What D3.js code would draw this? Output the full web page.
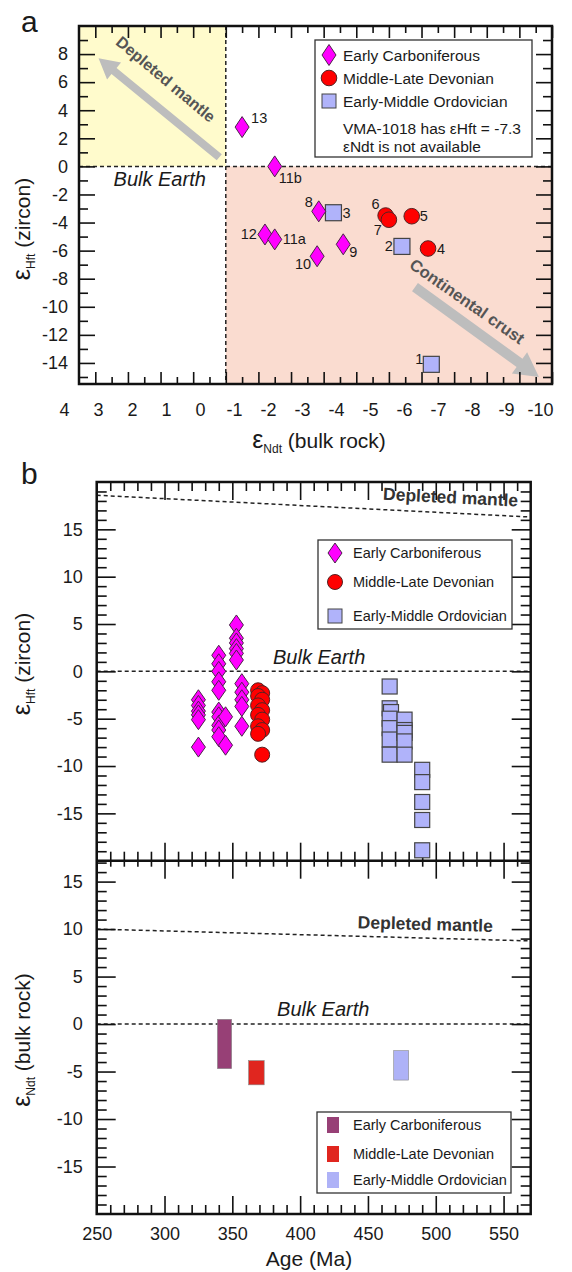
<!DOCTYPE html>
<html>
<head>
<meta charset="utf-8">
<script src="https://cdn.jsdelivr.net/npm/d3@7"></script>
<style>
body{margin:0;background:#fff;}
svg text{font-family:Arial,"Liberation Sans",sans-serif;fill:#1a1a1a;}
.frame{fill:none;stroke:#111;stroke-width:2.5;}
.axis path{display:none;}
.axis line{stroke:#111;stroke-width:1.6;}
.axis text{font-size:18px;font-family:Arial,"Liberation Sans",sans-serif;fill:#1a1a1a;}
.dash{fill:none;stroke:#222;stroke-width:1.5;stroke-dasharray:4,3;}
</style>
</head>
<body>
<svg id="chart" width="572" height="1272"></svg>
<script>
(function(){

//panel a data: [label, eNd(t) bulk rock, eHf(t) zircon]
var carbA = [["13",-0.5,2.8],["11b",-1.5,0.0],["12",-1.2,-4.85],["11a",-1.5,-5.2],["8",-2.85,-3.2],["10",-2.8,-6.4],["9",-3.6,-5.55]];
var devA = [["6",-4.9,-3.5],["7",-5.0,-3.8],["5",-5.7,-3.55],["4",-6.2,-5.85]];
var ordA = [["3",-3.3,-3.3],["2",-5.4,-5.7],["1",-6.3,-14.1]];
var xTicksA = [4,3,2,1,0,-1,-2,-3,-4,-5,-6,-7,-8,-9,-10];
var yTicksA = [8,6,4,2,0,-2,-4,-6,-8,-10,-12,-14];

//panel b data: [age Ma, eHf(t)]
var carbB = [[325,-3.0],[325,-3.6],[325,-4.2],[325,-4.6],[325,-5.1],[325,-8.0],
  [340,1.7],[340,0.8],[340,0.0],[340,-1.1],[340,-2.0],[340,-4.3],[340,-4.8],[340,-5.7],[340,-6.2],[340,-6.9],
  [345,-4.8],[345,-7.8],
  [353,4.9],[353,3.5],[353,3.0],[353,2.4],[353,1.9],[353,1.2],
  [357,-1.3],[357,-2.2],[357,-3.0],[357,-3.7],[357,-5.8]];
var devB = [[369,-2.0],[372,-2.3],[369,-2.6],[372,-3.0],[369,-3.6],[372,-4.1],[369,-4.6],[372,-5.1],[369,-5.8],[372,-6.2],[369,-6.6],[372,-8.8]];
var ordB = [[466,-1.6],[466,-3.9],[467,-4.3],[466,-5.0],[466,-6.0],[466,-7.2],[466,-8.8],
  [477,-5.1],[477,-6.2],[477,-6.5],[477,-7.4],[477,-8.8],
  [490,-10.4],[490,-11.7],[490,-13.8],[490,-15.7],[490,-18.9]];

//panel b bottom: eNd(t) bulk rock ranges
var barNames = ["Early Carboniferous","Middle-Late Devonian","Early-Middle Ordovician"];
var barAges = [[339,349.5],[362,373.5],[469,480]];
var barNd = [[-4.7,0.5],[-6.4,-3.85],[-5.9,-2.8]];

//depleted mantle reference lines
var dmAge = [250,570];
var dmHf = [18.6,16.3];
var dmNd = [10.0,8.75];

var ageTicks = [250,300,350,400,450,500,550];
var epsTicks = [15,10,5,0,-5,-10,-15];

var seriesNames = ["Early Carboniferous","Middle-Late Devonian","Early-Middle Ordovician"];
var colCarb = "#ff00ff", colDev = "#ff0000", colOrd = "#b0b3fa";
var barColors = ["#974076","#e0261f","#aeb2f7"];

var svg = d3.select("#chart");

function num(d){ return String(d); }

function diamondPath(hw, hh){
    return "M0," + (-hh) + "L" + hw + ",0L0," + hh + "L" + (-hw) + ",0Z";
}

function arrowPoly(p0, p1, w, hw, hl){
    var dx = p1[0]-p0[0], dy = p1[1]-p0[1], L = Math.sqrt(dx*dx+dy*dy);
    var ux = dx/L, uy = dy/L, nx = -uy, ny = ux;
    var b = [p1[0]-ux*hl, p1[1]-uy*hl];
    return [[p0[0]+nx*w/2,p0[1]+ny*w/2],[b[0]+nx*w/2,b[1]+ny*w/2],[b[0]+nx*hw/2,b[1]+ny*hw/2],
        p1,[b[0]-nx*hw/2,b[1]-ny*hw/2],[b[0]-nx*w/2,b[1]-ny*w/2],[p0[0]-nx*w/2,p0[1]-ny*w/2]];
}

//epsilon title with subscript
function epsText(t, sub, rest){
    t.append("tspan").attr("font-size",25).text("\u03b5");
    t.append("tspan").attr("font-size",12).attr("dy",5).text(sub);
    t.append("tspan").attr("font-size",21).attr("dy",-5).text(" " + rest);
    return t;
}
function epsTitle(g, x, y, sub, rest){
    var t = g.append("text")
        .attr("transform","translate(" + x + "," + y + ") rotate(-90)")
        .attr("text-anchor","middle");
    return epsText(t, sub, rest);
}

/* ---------------- panel a ---------------- */
var xA = d3.scaleLinear().domain([4.5,-10]).range([79,552]);
var yA = d3.scaleLinear().domain([-15.5,10]).range([384,26]);
//the printed labels sit on a slightly wider spacing than the ticks
var xAlab = d3.scaleLinear().domain([4,-10]).range([64,540]);

//shaded fields
svg.append("rect")
    .attr("x",xA(4.5)).attr("y",yA(10))
    .attr("width",xA(0)-xA(4.5)).attr("height",yA(0)-yA(10))
    .attr("fill","#fffbcc");
svg.append("rect")
    .attr("x",xA(0)).attr("y",yA(0))
    .attr("width",xA(-10)-xA(0)).attr("height",yA(-15.5)-yA(0))
    .attr("fill","#fadcd0");

svg.append("line").attr("class","dash")
    .attr("x1",xA(0)).attr("x2",xA(0)).attr("y1",yA(10)).attr("y2",yA(-15.5));
svg.append("line").attr("class","dash")
    .attr("x1",xA(4.5)).attr("x2",xA(-10)).attr("y1",yA(0)).attr("y2",yA(0));

//arrows
var dmArrow = arrowPoly([xA(0.2),yA(0.65)],[xA(3.9),yA(7.7)],8,22,20);
svg.append("polygon").attr("points",dmArrow.join(" ")).attr("fill","#bdbdbd");
var ccArrow = arrowPoly([xA(-5.8),yA(-8.6)],[xA(-9.6),yA(-15.0)],10,26,24);
svg.append("polygon").attr("points",ccArrow.join(" ")).attr("fill","#bdbdbd");

svg.append("text")
    .attr("transform","translate(" + xA(1.95) + "," + yA(5.9) + ") rotate(40)")
    .attr("text-anchor","middle").attr("font-size",16).attr("font-weight","bold")
    .style("fill","#555").text("Depleted mantle");
svg.append("text")
    .attr("transform","translate(" + xA(-7.3) + "," + yA(-9.95) + ") rotate(35)")
    .attr("text-anchor","middle").attr("font-size",16.5).attr("font-weight","bold")
    .style("fill","#555").text("Continental crust");

svg.append("text")
    .attr("x",xA(3.44)).attr("y",yA(-1.43))
    .attr("font-size",20).attr("font-style","italic").text("Bulk Earth");

//axes panel a
var axA = svg.append("g");
axA.append("g").attr("class","axis").attr("transform","translate(0," + yA(-15.5) + ")")
    .call(d3.axisBottom(xAlab).tickValues(xTicksA).tickSize(0).tickPadding(19).tickFormat(num));
axA.append("g").attr("class","axis").attr("transform","translate(0," + yA(-15.5) + ")")
    .call(d3.axisBottom(xA).tickValues(xTicksA).tickSize(-12).tickFormat(""));
axA.append("g").attr("class","axis").attr("transform","translate(0," + yA(-15.5) + ")")
    .call(d3.axisBottom(xA).tickValues(d3.range(-9.5,4.5,1)).tickSize(-7).tickFormat(""));
axA.append("g").attr("class","axis").attr("transform","translate(0," + yA(10) + ")")
    .call(d3.axisTop(xA).tickValues(xTicksA).tickSize(-12).tickFormat(""));
axA.append("g").attr("class","axis").attr("transform","translate(0," + yA(10) + ")")
    .call(d3.axisTop(xA).tickValues(d3.range(-9.5,4.5,1)).tickSize(-7).tickFormat(""));
axA.append("g").attr("class","axis").attr("transform","translate(" + xA(4.5) + ",0)")
    .call(d3.axisLeft(yA).tickValues(yTicksA).tickSize(-16).tickPadding(11).tickFormat(num));
axA.append("g").attr("class","axis").attr("transform","translate(" + xA(4.5) + ",0)")
    .call(d3.axisLeft(yA).tickValues(d3.range(-15,10,2)).tickSize(-9).tickFormat(""));
axA.append("g").attr("class","axis").attr("transform","translate(" + xA(-10) + ",0)")
    .call(d3.axisRight(yA).tickValues(yTicksA).tickSize(-16).tickFormat(""));
axA.append("g").attr("class","axis").attr("transform","translate(" + xA(-10) + ",0)")
    .call(d3.axisRight(yA).tickValues(d3.range(-15,10,2)).tickSize(-9).tickFormat(""));

svg.append("rect").attr("class","frame")
    .attr("x",xA(4.5)).attr("y",yA(10))
    .attr("width",xA(-10)-xA(4.5)).attr("height",yA(-15.5)-yA(10));

//points panel a
var labelPos = {"13":[9,-4,"start"],"11b":[4,17,"start"],"12":[-8,5,"end"],"11a":[8,5,"start"],
    "8":[-6,-4,"end"],"10":[-6,13,"end"],"9":[6,13,"start"],"6":[-6,-7,"end"],"7":[-7,15,"end"],
    "5":[8,5,"start"],"4":[9,5,"start"],"3":[9,5,"start"],"2":[-9,5,"end"],"1":[-8,0,"end"]};

var ptsA = svg.append("g");
ptsA.selectAll(".sqA").data(ordA).enter().append("rect")
    .attr("x",function(d){ return xA(d[1])-8; })
    .attr("y",function(d){ return yA(d[2])-8; })
    .attr("width",16).attr("height",16)
    .attr("fill",colOrd).attr("stroke","#444").attr("stroke-width",1.2);
ptsA.selectAll(".ciA").data(devA).enter().append("circle")
    .attr("cx",function(d){ return xA(d[1]); })
    .attr("cy",function(d){ return yA(d[2]); })
    .attr("r",7.8)
    .attr("fill",colDev).attr("stroke","#552222").attr("stroke-width",1);
ptsA.selectAll(".diA").data(carbA).enter().append("path")
    .attr("d",diamondPath(7,10.5))
    .attr("transform",function(d){ return "translate(" + xA(d[1]) + "," + yA(d[2]) + ")"; })
    .attr("fill",colCarb).attr("stroke","#4a2448").attr("stroke-width",1);

ptsA.selectAll(".lab").data(carbA.concat(devA,ordA)).enter().append("text")
    .attr("x",function(d){ return xA(d[1]) + labelPos[d[0]][0]; })
    .attr("y",function(d){ return yA(d[2]) + labelPos[d[0]][1]; })
    .attr("text-anchor",function(d){ return labelPos[d[0]][2]; })
    .attr("font-size",14.5).text(function(d){ return d[0]; });

//legend panel a
var legA = svg.append("g");
legA.append("rect").attr("x",315).attr("y",40).attr("width",217).attr("height",117)
    .attr("fill","#fff").attr("stroke","#333").attr("stroke-width",1.3);
legA.append("path").attr("d",diamondPath(7,10.5)).attr("transform","translate(329,55)")
    .attr("fill",colCarb).attr("stroke","#4a2448");
legA.append("circle").attr("cx",329).attr("cy",78).attr("r",7.8)
    .attr("fill",colDev).attr("stroke","#552222");
legA.append("rect").attr("x",322).attr("y",94).attr("width",14).attr("height",14)
    .attr("fill",colOrd).attr("stroke","#444");
legA.selectAll(".lt").data(seriesNames).enter().append("text")
    .attr("x",343).attr("y",function(d,i){ return [61,84,107][i]; })
    .attr("font-size",15.5).text(function(d){ return d; });
legA.append("text").attr("x",343).attr("y",134).attr("font-size",15.5).text("VMA-1018 has \u03b5Hft = -7.3");
legA.append("text").attr("x",343).attr("y",152).attr("font-size",15.5).text("\u03b5Ndt  is not available");

svg.append("text").attr("x",21).attr("y",32).attr("font-size",30).text("a");
epsTitle(svg, 30, 229, "Hft", "(zircon)");
epsText(svg.append("text").attr("x",319).attr("y",448).attr("text-anchor","middle"), "Ndt", "(bulk rock)");

/* ---------------- panel b ---------------- */
var xB = d3.scaleLinear().domain([250,570]).range([96.7,530.7]);
var yB1 = d3.scaleLinear().domain([-20,20]).range([860.7,482]);
var yB2 = d3.scaleLinear().domain([-20,17.2]).range([1214,860.7]);

//reference lines
var dmLine1 = d3.line().x(function(d,i){ return xB(dmAge[i]); }).y(function(d){ return yB1(d); });
var dmLine2 = d3.line().x(function(d,i){ return xB(dmAge[i]); }).y(function(d){ return yB2(d); });
svg.append("path").attr("class","dash").attr("d",dmLine1(dmHf));
svg.append("path").attr("class","dash").attr("d",dmLine2(dmNd));
svg.append("line").attr("class","dash").attr("x1",xB(250)).attr("x2",xB(570)).attr("y1",yB1(0)).attr("y2",yB1(0));
svg.append("line").attr("class","dash").attr("x1",xB(250)).attr("x2",xB(570)).attr("y1",yB2(0)).attr("y2",yB2(0));

svg.append("text")
    .attr("transform","translate(" + xB(560.5) + "," + yB1(17.4) + ") rotate(2.9)")
    .attr("text-anchor","end").attr("font-size",17.5).attr("font-weight","bold")
    .style("fill","#333").text("Depleted mantle");
svg.append("text")
    .attr("transform","translate(" + xB(542) + "," + yB2(9.7) + ") rotate(1.6)")
    .attr("text-anchor","end").attr("font-size",17.5).attr("font-weight","bold")
    .style("fill","#333").text("Depleted mantle");
svg.append("text").attr("x",xB(380)).attr("y",yB1(0.77))
    .attr("font-size",20).attr("font-style","italic").text("Bulk Earth");
svg.append("text").attr("x",xB(383)).attr("y",yB2(0.85))
    .attr("font-size",20).attr("font-style","italic").text("Bulk Earth");

//axes panel b
var minorAge = d3.range(260,570,10).filter(function(d){ return d % 50 !== 0; });
var minorEps1 = d3.range(-19,20,1).filter(function(d){ return d % 5 !== 0; });
var minorEps2 = d3.range(-19,18,1).filter(function(d){ return d % 5 !== 0; });
var axB = svg.append("g");

function ageAxis(gen, y, len, minLen, labels){
    axB.append("g").attr("class","axis").attr("transform","translate(0," + y + ")")
        .call(gen(xB).tickValues(ageTicks).tickSize(len).tickPadding(13).tickFormat(labels ? num : ""));
    axB.append("g").attr("class","axis").attr("transform","translate(0," + y + ")")
        .call(gen(xB).tickValues(minorAge).tickSize(minLen).tickFormat(""));
}
ageAxis(d3.axisTop, yB1(20), -18, -9, false);
ageAxis(d3.axisBottom, yB1(-20), -18, -9, false);
ageAxis(d3.axisTop, yB1(-20), -18, -6, false);
ageAxis(d3.axisBottom, yB2(-20), -18, -9, true);

function epsAxis(scale, minor){
    axB.append("g").attr("class","axis").attr("transform","translate(" + xB(250) + ",0)")
        .call(d3.axisLeft(scale).tickValues(epsTicks).tickSize(-19).tickPadding(14).tickFormat(num));
    axB.append("g").attr("class","axis").attr("transform","translate(" + xB(250) + ",0)")
        .call(d3.axisLeft(scale).tickValues(minor).tickSize(-10).tickFormat(""));
    axB.append("g").attr("class","axis").attr("transform","translate(" + xB(570) + ",0)")
        .call(d3.axisRight(scale).tickValues(epsTicks).tickSize(-19).tickFormat(""));
    axB.append("g").attr("class","axis").attr("transform","translate(" + xB(570) + ",0)")
        .call(d3.axisRight(scale).tickValues(minor).tickSize(-10).tickFormat(""));
}
epsAxis(yB1, minorEps1);
epsAxis(yB2, minorEps2);

//upper points
var ptsB = svg.append("g");
ptsB.selectAll(".sqB").data(ordB).enter().append("rect")
    .attr("x",function(d){ return xB(d[0])-7.5; })
    .attr("y",function(d){ return yB1(d[1])-7.5; })
    .attr("width",15).attr("height",15)
    .attr("fill",colOrd).attr("stroke","#444").attr("stroke-width",1.2);
ptsB.selectAll(".diB").data(carbB).enter().append("path")
    .attr("d",diamondPath(7,10))
    .attr("transform",function(d){ return "translate(" + xB(d[0]) + "," + yB1(d[1]) + ")"; })
    .attr("fill",colCarb).attr("stroke","#4a2448").attr("stroke-width",1);
ptsB.selectAll(".ciB").data(devB).enter().append("circle")
    .attr("cx",function(d){ return xB(d[0]); })
    .attr("cy",function(d){ return yB1(d[1]); })
    .attr("r",7.5)
    .attr("fill",colDev).attr("stroke","#552222").attr("stroke-width",1);

//lower bars
svg.selectAll(".ndBar").data(barNames).enter().append("rect")
    .attr("x",function(d,i){ return xB(barAges[i][0]); })
    .attr("width",function(d,i){ return xB(barAges[i][1]) - xB(barAges[i][0]); })
    .attr("y",function(d,i){ return yB2(barNd[i][1]); })
    .attr("height",function(d,i){ return yB2(barNd[i][0]) - yB2(barNd[i][1]); })
    .attr("fill",function(d,i){ return barColors[i]; })
    .attr("stroke","#888").attr("stroke-width",0.6);

svg.append("rect").attr("class","frame")
    .attr("x",xB(250)).attr("y",yB1(20))
    .attr("width",xB(570)-xB(250)).attr("height",yB2(-20)-yB1(20));
svg.append("line").attr("x1",xB(250)).attr("x2",xB(570)).attr("y1",yB1(-20)).attr("y2",yB1(-20))
    .attr("stroke","#111").attr("stroke-width",2.5);

//legend upper b
var legB = svg.append("g");
legB.append("rect").attr("x",318).attr("y",540).attr("width",194).attr("height",89)
    .attr("fill","#fff").attr("stroke","#333").attr("stroke-width",1.3);
legB.append("path").attr("d",diamondPath(7,10)).attr("transform","translate(335,553)")
    .attr("fill",colCarb).attr("stroke","#4a2448");
legB.append("circle").attr("cx",335).attr("cy",582).attr("r",7.5)
    .attr("fill",colDev).attr("stroke","#552222");
legB.append("rect").attr("x",328).attr("y",609).attr("width",14).attr("height",14)
    .attr("fill",colOrd).attr("stroke","#444");
legB.selectAll(".lt").data(seriesNames).enter().append("text")
    .attr("x",353).attr("y",function(d,i){ return [558,587,621][i]; })
    .attr("font-size",14.5).text(function(d){ return d; });

//legend lower b
var legC = svg.append("g");
legC.append("rect").attr("x",317).attr("y",1112).attr("width",194).attr("height",81)
    .attr("fill","#fff").attr("stroke","#333").attr("stroke-width",1.3);
legC.selectAll(".sw").data(barNames).enter().append("rect")
    .attr("x",327).attr("y",function(d,i){ return [1117,1146,1172][i]; })
    .attr("width",12).attr("height",16)
    .attr("fill",function(d,i){ return barColors[i]; });
legC.selectAll(".lt").data(barNames).enter().append("text")
    .attr("x",353).attr("y",function(d,i){ return [1130,1159,1185][i]; })
    .attr("font-size",14.5).text(function(d){ return d; });

svg.append("text").attr("x",21).attr("y",484).attr("font-size",30).text("b");
epsTitle(svg, 30, 664, "Hft", "(zircon)");
epsTitle(svg, 30, 1040, "Ndt", "(bulk rock)");
svg.append("text").attr("x",309).attr("y",1266).attr("text-anchor","middle")
    .attr("font-size",21).text("Age (Ma)");

})();
</script>
</body>
</html>
